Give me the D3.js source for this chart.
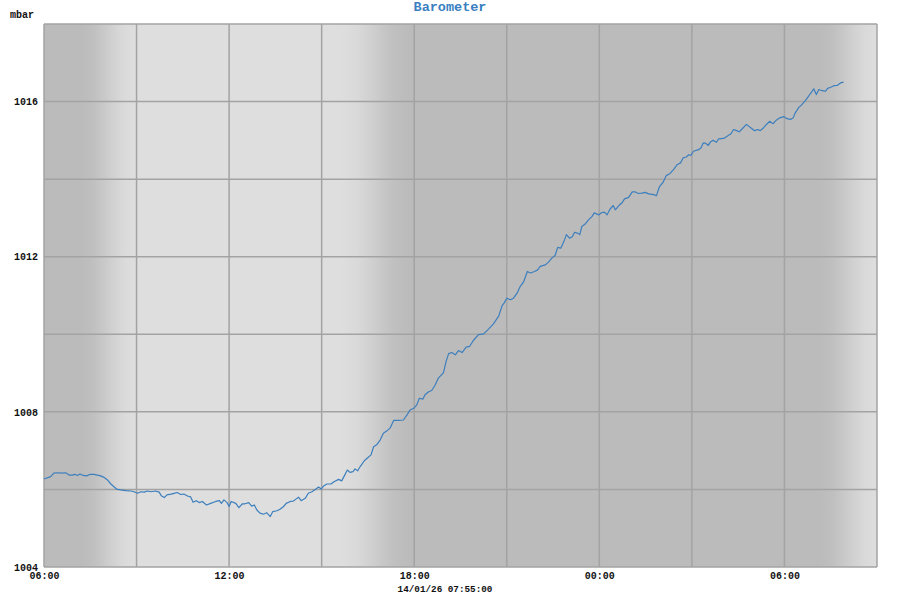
<!DOCTYPE html>
<html>
<head>
<meta charset="utf-8">
<script src="https://cdn.jsdelivr.net/npm/d3@7"></script>
<style>
  html, body { margin: 0; padding: 0; background: #ffffff; }
  svg { display: block; }
  text { font-family: "Liberation Mono", "DejaVu Sans Mono", monospace; font-weight: bold; }
</style>
</head>
<body>
<svg id="chart" width="900" height="600"></svg>
<script>
// ---------------- DATA ----------------
const titleText = "Barometer";
const unitText = "mbar";
const stampText = "14/01/26 07:55:00";
const startStamp = "2026-01-13T06:00:00";
const spanHours = 27;

// minutes after 13/01/26 06:00
const minutes = [
  0, 13, 19, 26, 36, 42, 49, 55, 60, 65, 70, 76, 83, 90, 97, 104, 110, 117, 123, 130,
  136, 141, 149, 159, 169, 175, 182, 188, 195, 201, 208, 217, 224, 228, 234, 239, 247, 253, 259, 266,
  272, 279, 285, 290, 296, 302, 308, 316, 324, 334, 341, 345, 350, 356, 360, 364, 373, 379, 386, 391,
  398, 404, 409, 414, 420, 427, 433, 440, 445, 453, 459, 466, 471, 479, 485, 490, 495, 500, 508, 514,
  521, 527, 534, 539, 544, 550, 558, 564, 573, 579, 584, 590, 595, 601, 605, 610, 615, 623, 629, 636,
  641, 647, 654, 660, 667, 673, 680, 689, 699, 706, 712, 720, 725, 730, 737, 741, 748, 754, 761, 767,
  777, 782, 787, 793, 800, 806, 813, 821, 828, 835, 845, 855, 865, 874, 884, 891, 895, 900, 907, 913,
  920, 926, 933, 940, 946, 954, 960, 965, 975, 981, 988, 994, 999, 1005, 1011, 1016, 1022, 1027, 1032, 1037,
  1042, 1046, 1053, 1059, 1066, 1070, 1079, 1085, 1090, 1095, 1101, 1107, 1111, 1118, 1124, 1129, 1137, 1144, 1150, 1156,
  1163, 1169, 1176, 1186, 1191, 1197, 1204, 1210, 1217, 1225, 1231, 1238, 1243, 1249, 1254, 1258, 1263, 1273, 1278, 1282,
  1286, 1292, 1296, 1301, 1308, 1312, 1322, 1330, 1336, 1341, 1347, 1352, 1358, 1366, 1371, 1375, 1382, 1388, 1393, 1399,
  1405, 1411, 1418, 1424, 1431, 1439, 1445, 1452, 1457, 1461, 1468, 1474, 1481, 1487, 1494, 1497, 1502, 1507, 1513, 1520,
  1524, 1530, 1536, 1543, 1549, 1555
];
const pressure = [
  1006.27, 1006.33, 1006.42, 1006.43, 1006.42, 1006.43, 1006.37, 1006.37, 1006.39, 1006.36, 1006.40, 1006.36, 1006.35, 1006.39, 1006.39, 1006.37, 1006.35, 1006.31, 1006.25, 1006.14,
  1006.07, 1006.01, 1005.99, 1005.97, 1005.96, 1005.94, 1005.90, 1005.94, 1005.93, 1005.96, 1005.94, 1005.96, 1005.93, 1005.84, 1005.79, 1005.86, 1005.88, 1005.90, 1005.92, 1005.87,
  1005.88, 1005.83, 1005.81, 1005.67, 1005.71, 1005.66, 1005.69, 1005.60, 1005.64, 1005.69, 1005.71, 1005.64, 1005.73, 1005.66, 1005.56, 1005.69, 1005.64, 1005.53, 1005.63, 1005.63,
  1005.66, 1005.57, 1005.60, 1005.47, 1005.39, 1005.36, 1005.40, 1005.30, 1005.43, 1005.45, 1005.49, 1005.56, 1005.64, 1005.69, 1005.70, 1005.75, 1005.80, 1005.71, 1005.77, 1005.90,
  1005.94, 1005.99, 1006.06, 1006.01, 1006.09, 1006.14, 1006.14, 1006.20, 1006.26, 1006.22, 1006.35, 1006.50, 1006.44, 1006.46, 1006.53, 1006.48, 1006.59, 1006.74, 1006.81, 1006.89,
  1007.10, 1007.15, 1007.28, 1007.45, 1007.51, 1007.58, 1007.78, 1007.78, 1007.79, 1007.92, 1008.05, 1008.10, 1008.18, 1008.35, 1008.33, 1008.44, 1008.52, 1008.55, 1008.70, 1008.87,
  1009.01, 1009.30, 1009.50, 1009.53, 1009.47, 1009.58, 1009.53, 1009.67, 1009.69, 1009.84, 1009.99, 1010.01, 1010.14, 1010.27, 1010.46, 1010.74, 1010.81, 1010.93, 1010.89, 1010.93,
  1011.06, 1011.23, 1011.36, 1011.62, 1011.58, 1011.62, 1011.66, 1011.75, 1011.79, 1011.86, 1011.97, 1012.03, 1012.24, 1012.22, 1012.39, 1012.57, 1012.48, 1012.51, 1012.63, 1012.61,
  1012.57, 1012.78, 1012.85, 1012.95, 1013.04, 1013.13, 1013.08, 1013.14, 1013.15, 1013.08, 1013.23, 1013.32, 1013.21, 1013.32, 1013.39, 1013.49, 1013.53, 1013.67, 1013.67, 1013.63,
  1013.64, 1013.66, 1013.62, 1013.60, 1013.57, 1013.81, 1013.92, 1014.09, 1014.14, 1014.26, 1014.37, 1014.42, 1014.55, 1014.57, 1014.63, 1014.61, 1014.72, 1014.76, 1014.81, 1014.93,
  1014.93, 1014.87, 1014.96, 1015.00, 1014.95, 1015.04, 1015.05, 1015.12, 1015.17, 1015.28, 1015.25, 1015.22, 1015.30, 1015.41, 1015.36, 1015.32, 1015.25, 1015.28, 1015.25, 1015.32,
  1015.41, 1015.49, 1015.43, 1015.52, 1015.58, 1015.61, 1015.56, 1015.54, 1015.58, 1015.71, 1015.85, 1015.92, 1016.03, 1016.14, 1016.27, 1016.33, 1016.18, 1016.31, 1016.28, 1016.27,
  1016.34, 1016.37, 1016.41, 1016.42, 1016.48, 1016.50
];

// twilight transitions (minutes after start)
const twilightStart = [70, 575, 1505];
const twilightEnd   = [180, 715, 1625];
const twilightKind  = ["dawn", "dusk", "dawn"];

const yDomain = [1004, 1018];
const yGridStep = 2;
const yLabelValues = [1004, 1008, 1012, 1016];
const xGridHours = 3;
const xLabelHours = 6;

// ---------------- LAYOUT ----------------
const plotL = 44, plotR = 877, plotT = 24, plotB = 567;
const nightColor = "#bbbbbb", dayColor = "#dedede";

const svg = d3.select("#chart");
const t0 = new Date(startStamp);
const t1 = d3.timeHour.offset(t0, spanHours);
const toDate = m => d3.timeMinute.offset(t0, m);

const xScale = d3.scaleTime().domain([t0, t1]).range([plotL, plotR]);
const yScale = d3.scaleLinear().domain(yDomain).range([plotB, plotT]);

// background gradient (day / night), smooth transitions
const defs = svg.append("defs");
const grad = defs.append("linearGradient")
  .attr("id", "sky").attr("gradientUnits", "userSpaceOnUse")
  .attr("x1", plotL).attr("x2", plotR).attr("y1", 0).attr("y2", 0);
const frac = m => (xScale(toDate(m)) - plotL) / (plotR - plotL);
const stops = [{o: 0, c: twilightKind[0] === "dawn" ? nightColor : dayColor}];
const nSteps = 12;
twilightStart.forEach((s, i) => {
  const a = twilightKind[i] === "dawn" ? nightColor : dayColor;
  const b = twilightKind[i] === "dawn" ? dayColor : nightColor;
  const mix = d3.interpolateRgb(a, b);
  for (let k = 0; k <= nSteps; k++) {
    const u = k / nSteps;
    const sm = u * u * (3 - 2 * u);
    const m = s + (twilightEnd[i] - s) * u;
    const o = frac(m);
    if (o >= 0 && o <= 1) stops.push({o: o, c: mix(sm)});
  }
});
grad.selectAll("stop").data(stops).enter().append("stop")
  .attr("offset", d => d.o).attr("stop-color", d => d.c);

svg.append("rect")
  .attr("x", plotL).attr("y", plotT)
  .attr("width", plotR - plotL).attr("height", plotB - plotT)
  .attr("fill", "url(#sky)");

// grid
const gridColor = "#a3a3a3";
const yGrid = d3.range(yDomain[0], yDomain[1] + 0.001, yGridStep);
svg.append("g").selectAll("line").data(yGrid).enter().append("line")
  .attr("x1", plotL).attr("x2", plotR)
  .attr("y1", d => yScale(d)).attr("y2", d => yScale(d))
  .attr("stroke", gridColor).attr("stroke-width", 1.5);
const xGrid = d3.timeHour.every(xGridHours).range(t0, d3.timeMinute.offset(t1, 1));
svg.append("g").selectAll("line").data(xGrid).enter().append("line")
  .attr("x1", d => xScale(d)).attr("x2", d => xScale(d))
  .attr("y1", plotT).attr("y2", plotB)
  .attr("stroke", gridColor).attr("stroke-width", 1.5);

// line
const series = minutes.map((m, i) => ({t: toDate(m), v: pressure[i]}));
svg.append("path")
  .datum(series)
  .attr("fill", "none")
  .attr("stroke", "#3d7fbd")
  .attr("stroke-width", 1.2)
  .attr("stroke-linejoin", "round")
  .attr("d", d3.line().x(d => xScale(d.t)).y(d => yScale(d.v)));

// axes labels
const yAxis = d3.axisLeft(yScale).tickValues(yLabelValues).tickSize(0).tickPadding(6).tickFormat(d3.format("d"));
const gy = svg.append("g").attr("transform", `translate(${plotL},0)`).call(yAxis);
gy.select(".domain").remove();
gy.selectAll("text").attr("font-size", 10).attr("fill", "#111")
  .style("font-family", '"Liberation Mono", monospace').style("font-weight", "bold");

const xLabels = d3.timeHour.every(xLabelHours).range(t0, t1);
const xAxis = d3.axisBottom(xScale).tickValues(xLabels).tickSize(0).tickPadding(5).tickFormat(d3.timeFormat("%H:%M"));
const gx = svg.append("g").attr("transform", `translate(0,${plotB})`).call(xAxis);
gx.select(".domain").remove();
gx.selectAll("text").attr("font-size", 10).attr("fill", "#111")
  .style("font-family", '"Liberation Mono", monospace').style("font-weight", "bold");

// title, unit, stamp
svg.append("text").attr("x", 450).attr("y", 11).attr("text-anchor", "middle")
  .attr("font-size", 13.5).attr("fill", "#3a7fc1").text(titleText);
svg.append("text").attr("x", 10).attr("y", 18)
  .attr("font-size", 10).attr("fill", "#111").text(unitText);
svg.append("text").attr("x", 445).attr("y", 592).attr("text-anchor", "middle")
  .attr("font-size", 9.3).attr("fill", "#111").text(stampText);
</script>
</body>
</html>
